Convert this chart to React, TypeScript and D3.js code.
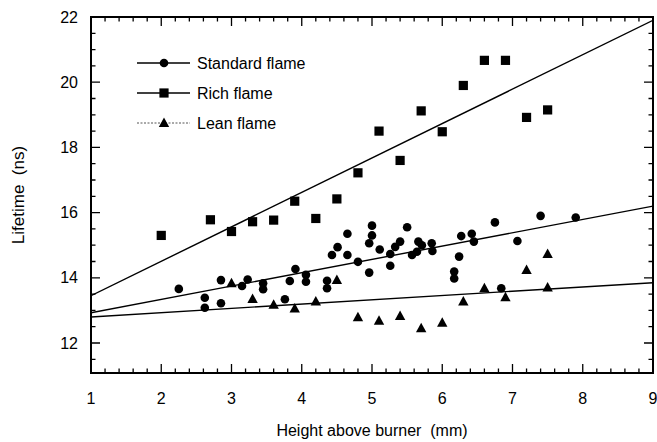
import React, { useRef, useEffect } from 'react';
import * as d3 from 'd3';

// Standard flame (circles)
const standardX = [2.25, 2.62, 2.62, 2.85, 2.85, 3.15, 3.23, 3.45, 3.45, 3.76, 3.83, 3.91, 4.06, 4.06, 4.36, 4.36, 4.43, 4.51, 4.65, 4.65, 4.8, 4.96, 4.96, 5.0, 5.0, 5.11, 5.26, 5.26, 5.33, 5.4, 5.5, 5.57, 5.64, 5.66, 5.71, 5.85, 5.86, 6.17, 6.17, 6.24, 6.27, 6.42, 6.45, 6.75, 6.84, 7.07, 7.4, 7.9];
const standardY = [13.66, 13.39, 13.08, 13.93, 13.22, 13.75, 13.95, 13.83, 13.65, 13.34, 13.9, 14.27, 14.09, 13.88, 13.91, 13.68, 14.7, 14.94, 14.7, 15.35, 14.49, 14.16, 15.06, 15.6, 15.3, 14.87, 14.73, 14.37, 14.95, 15.11, 15.55, 14.7, 14.8, 15.11, 15.0, 15.06, 14.82, 14.19, 13.98, 14.65, 15.28, 15.35, 15.11, 15.7, 13.68, 15.13, 15.9, 15.85];

// Rich flame (squares)
const richX = [2.0, 2.7, 3.0, 3.3, 3.6, 3.9, 4.2, 4.5, 4.8, 5.1, 5.4, 5.7, 6.0, 6.3, 6.6, 6.9, 7.2, 7.5];
const richY = [15.3, 15.78, 15.42, 15.72, 15.77, 16.35, 15.82, 16.42, 17.22, 18.5, 17.6, 19.12, 18.48, 19.9, 20.67, 20.67, 18.92, 19.15];

// Lean flame (triangles)
const leanX = [3.0, 3.3, 3.6, 3.9, 4.2, 4.5, 4.8, 5.1, 5.4, 5.7, 6.0, 6.3, 6.6, 6.9, 7.2, 7.5, 7.5];
const leanY = [13.83, 13.35, 13.17, 13.06, 13.27, 13.93, 12.79, 12.68, 12.83, 12.45, 12.62, 13.27, 13.68, 13.4, 14.24, 14.73, 13.7];

// fitted lines, end points at x = 1 and x = 9
const fitX = [1, 9];
const richFit = [13.45, 21.9];
const standardFit = [12.93, 16.2];
const leanFit = [12.8, 13.85];

const xTicks = [1, 2, 3, 4, 5, 6, 7, 8, 9];
const yTicks = [12, 14, 16, 18, 20, 22];
const legendLabels = ['Standard flame', 'Rich flame', 'Lean flame'];

const FONT = '"Liberation Sans", Arial, Helvetica, sans-serif';

const App = () => {
  const ref = useRef<SVGSVGElement | null>(null);

  useEffect(() => {
    const width = 657;
    const height = 442;
    const svg = d3.select(ref.current);
    svg.selectAll('*').remove();
    svg.attr('width', width).attr('height', height);

    const x = d3.scaleLinear().domain([1, 9]).range([91, 653]);
    const y = d3.scaleLinear().domain([11.08, 22]).range([373, 17]);
    const [x0, x1] = x.range();
    const [yb, yt] = y.range();

    const g = svg.append('g');

    // fitted lines (clipped to the frame)
    svg.append('clipPath').attr('id', 'plotclip')
      .append('rect').attr('x', x0).attr('y', yt).attr('width', x1 - x0).attr('height', yb - yt);
    const line = d3.line<number>().x((d, i) => x(fitX[i])).y(d => y(d));
    [richFit, standardFit, leanFit].forEach(f => {
      g.append('path')
        .attr('d', line(f))
        .attr('fill', 'none')
        .attr('stroke', '#000')
        .attr('stroke-width', 1.4)
        .attr('clip-path', 'url(#plotclip)');
    });

    // ticks on all four sides, pointing inward
    const minorX = d3.range(1, 9.001, 0.2).filter(v => Math.abs(v - Math.round(v)) > 1e-6);
    const minorY = d3.range(11.5, 22, 0.5).filter(v => Math.abs(v / 2 - Math.round(v / 2)) > 1e-6);
    const tickPath: string[] = [];
    xTicks.forEach(v => {
      tickPath.push(`M${x(v)},${yb}v-9`, `M${x(v)},${yt}v9`);
    });
    minorX.forEach(v => {
      tickPath.push(`M${x(v)},${yb}v-4.5`, `M${x(v)},${yt}v4.5`);
    });
    yTicks.forEach(v => {
      tickPath.push(`M${x0},${y(v)}h9`, `M${x1},${y(v)}h-9`);
    });
    minorY.forEach(v => {
      tickPath.push(`M${x0},${y(v)}h4.5`, `M${x1},${y(v)}h-4.5`);
    });
    g.append('path').attr('d', tickPath.join('')).attr('stroke', '#000').attr('stroke-width', 1.3).attr('fill', 'none');

    // frame
    g.append('rect')
      .attr('x', x0).attr('y', yt).attr('width', x1 - x0).attr('height', yb - yt)
      .attr('fill', 'none').attr('stroke', '#000').attr('stroke-width', 2);

    // tick labels
    g.selectAll('.xl').data(xTicks).enter().append('text')
      .attr('x', d => x(d)).attr('y', 404)
      .attr('text-anchor', 'middle')
      .attr('font-family', FONT).attr('font-size', 16)
      .text(d => d);
    g.selectAll('.yl').data(yTicks).enter().append('text')
      .attr('x', 78).attr('y', d => y(d) + 5.5)
      .attr('text-anchor', 'end')
      .attr('font-family', FONT).attr('font-size', 16)
      .text(d => d);

    // axis titles
    g.append('text')
      .attr('x', (x0 + x1) / 2).attr('y', 436)
      .attr('text-anchor', 'middle')
      .attr('font-family', FONT).attr('font-size', 16)
      .attr('xml:space', 'preserve')
      .text('Height above burner  (mm)');
    g.append('text')
      .attr('transform', `translate(24,${(yb + yt) / 2}) rotate(-90)`)
      .attr('text-anchor', 'middle')
      .attr('font-family', FONT).attr('font-size', 17)
      .attr('xml:space', 'preserve')
      .text('Lifetime  (ns)');

    // markers
    const circle = (sel: any, cx: number, cy: number) =>
      sel.append('circle').attr('cx', cx).attr('cy', cy).attr('r', 4.3).attr('fill', '#000');
    const square = (sel: any, cx: number, cy: number) =>
      sel.append('rect').attr('x', cx - 4.6).attr('y', cy - 4.6).attr('width', 9.2).attr('height', 9.2).attr('fill', '#000');
    const triangle = (sel: any, cx: number, cy: number) =>
      sel.append('path').attr('d', `M${cx},${cy - 5.5}L${cx + 5.2},${cy + 4}L${cx - 5.2},${cy + 4}Z`).attr('fill', '#000');

    const pts = g.append('g');
    richX.forEach((v, i) => square(pts, x(v), y(richY[i])));
    standardX.forEach((v, i) => circle(pts, x(v), y(standardY[i])));
    leanX.forEach((v, i) => triangle(pts, x(v), y(leanY[i])));

    // legend
    const leg = g.append('g');
    const rowY = [63, 93, 123];
    legendLabels.forEach((lab, i) => {
      const ly = rowY[i];
      leg.append('line')
        .attr('x1', 137).attr('x2', 190).attr('y1', ly).attr('y2', ly)
        .attr('stroke', i === 2 ? '#555' : '#000')
        .attr('stroke-width', i === 2 ? 1 : 1.4)
        .attr('stroke-dasharray', i === 2 ? '2,1.5' : null);
      if (i === 0) circle(leg, 164, ly);
      if (i === 1) square(leg, 164, ly);
      if (i === 2) triangle(leg, 164, ly);
      leg.append('text')
        .attr('x', 197).attr('y', ly + 5.5)
        .attr('font-family', FONT).attr('font-size', 16)
        .text(lab);
    });
  }, []);

  return (
    <div>
      <svg ref={ref} style={{ position: 'absolute', left: 0, top: 0, background: '#fff' }} />
    </div>
  );
};

export default App;
